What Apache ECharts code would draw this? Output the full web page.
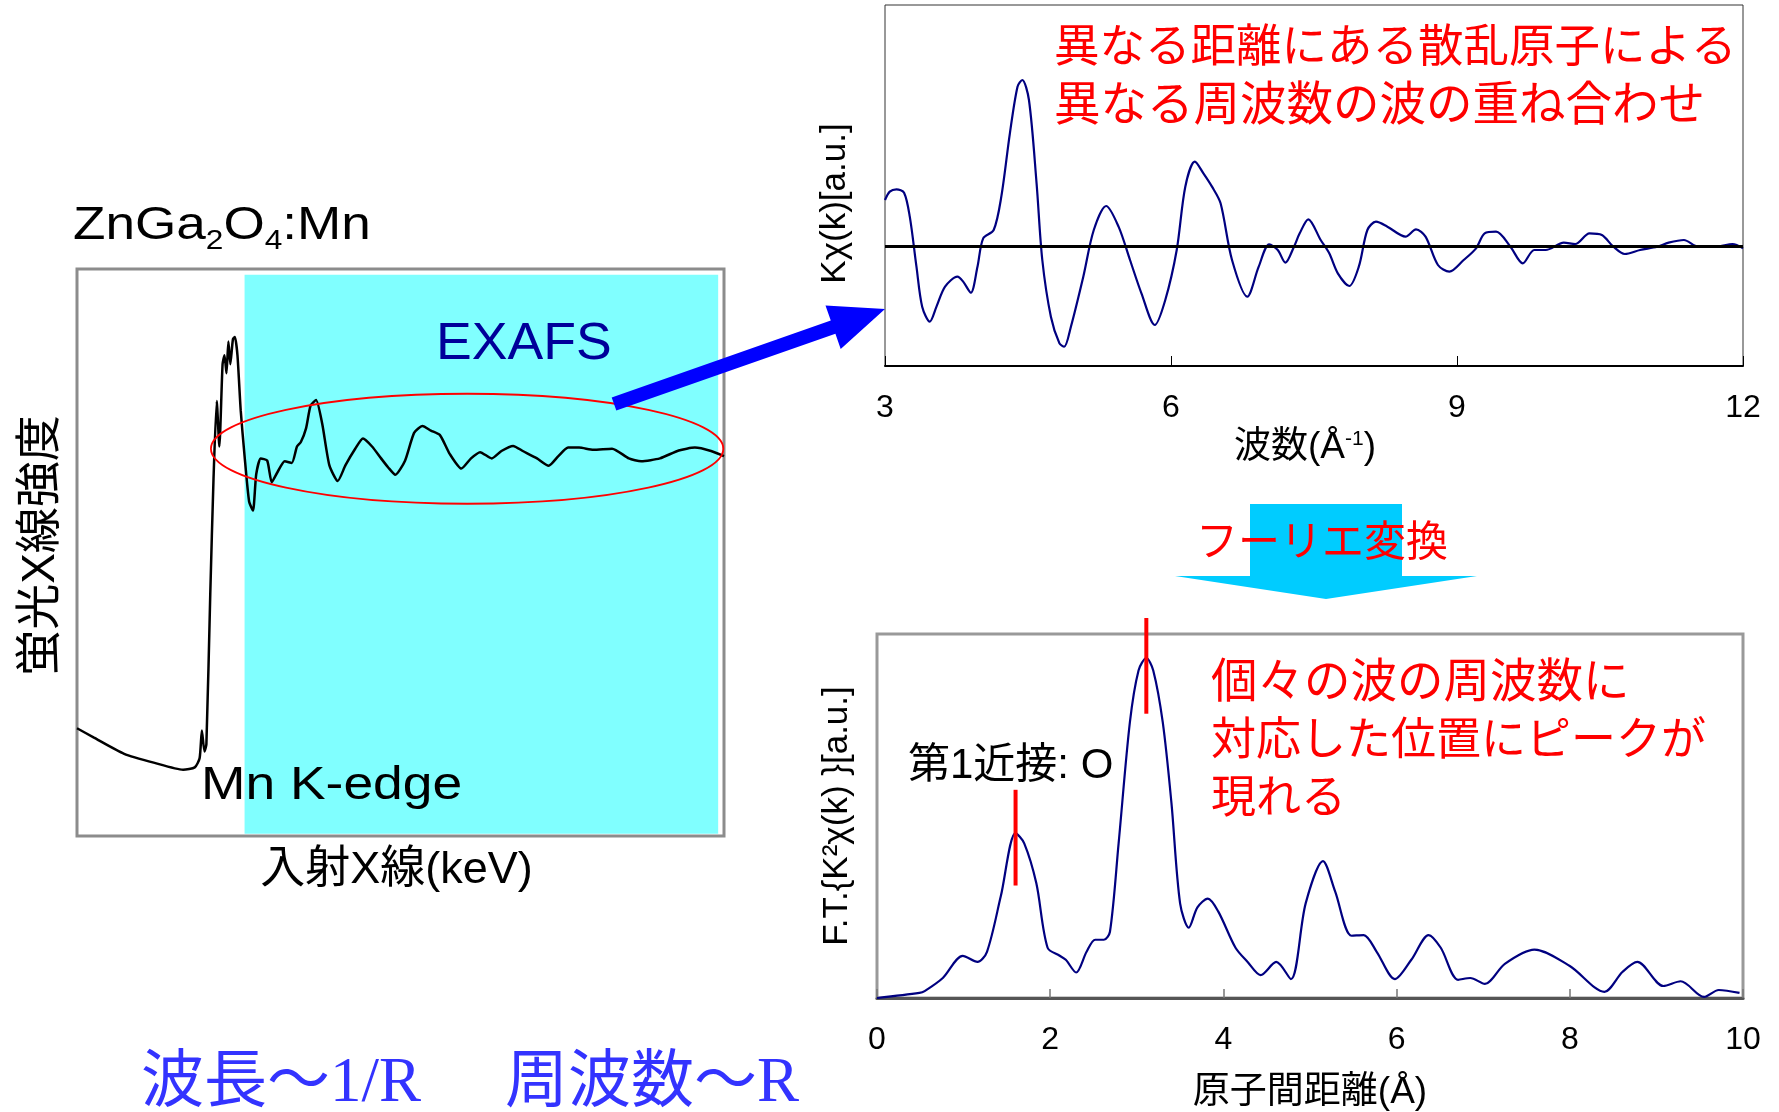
<!DOCTYPE html>
<html><head><meta charset="utf-8">
<script src="https://cdn.jsdelivr.net/npm/echarts@6/dist/echarts.min.js"></script>
<style>html,body{margin:0;padding:0;background:#fff}#c{width:1779px;height:1112px}</style>
</head><body><div id="c"></div><script>
// ---------- data ----------
// left panel: fluorescence spectrum (relative units, box = 0..100)
const xanes = [[0,19.0],[2.55,17.4],[7.29,14.5],[12.0,12.9],[16.4,11.7],[18.2,12.1],[18.95,13.7],[19.3,18.6],[19.7,14.9],[20.0,16.2],[20.6,42.8],[21.1,63.0],[21.6,76.7],[22.0,68.7],[22.5,83.2],[22.8,84.8],[23.1,81.6],[23.4,87.2],[23.7,83.2],[24.1,87.6],[24.4,88.0],[24.8,84.8],[25.3,75.1],[25.9,67.0],[26.6,59.0],[27.2,57.4],[27.7,63.8],[28.4,66.6],[29.4,66.2],[30.1,62.4],[31.0,64.2],[32.1,66.1],[33.2,65.8],[34.0,68.7],[34.6,69.5],[35.4,71.9],[36.1,75.9],[36.95,76.9],[37.9,72.7],[39.0,65.4],[40.3,62.6],[41.5,65.4],[43.0,68.3],[44.2,70.1],[45.6,68.7],[47.0,66.6],[48.1,65.0],[49.2,63.7],[50.7,66.2],[52.1,71.1],[53.4,72.3],[54.7,71.5],[56.1,70.7],[57.6,67.4],[59.4,64.8],[60.9,66.6],[62.3,67.7],[64.1,66.6],[65.6,67.9],[67.4,68.8],[68.9,67.9],[71.1,66.6],[72.9,65.3],[74.4,67.0],[75.9,68.5],[77.6,68.5],[79.8,68.1],[82.7,68.3],[85.3,66.6],[87.2,66.1],[90.1,66.6],[93.0,68.0],[95.5,68.5],[98.0,67.9],[100,67.0]];
const exafsRegion = [25.9, 0.4, 99.1, 99.0];   // x0, y0, x1, y1
const ellipseCenter = [60.3, 68.3];
const ellipseRadii = [39.6, 9.7];

// top right: k·chi(k) vs k
const chi = [[3.00,1.38],[3.05,1.63],[3.12,1.70],[3.20,1.60],[3.26,0.88],[3.33,-0.62],[3.39,-1.82],[3.47,-2.27],[3.54,-1.82],[3.63,-1.22],[3.76,-0.92],[3.82,-1.07],[3.90,-1.40],[3.97,-0.62],[4.03,0.23],[4.14,0.48],[4.22,1.48],[4.31,3.38],[4.39,4.78],[4.44,4.98],[4.51,4.38],[4.59,1.88],[4.65,-0.42],[4.74,-2.12],[4.83,-2.92],[4.88,-3.02],[4.95,-2.42],[5.08,-0.92],[5.19,0.48],[5.32,1.20],[5.45,0.58],[5.57,-0.42],[5.69,-1.42],[5.83,-2.37],[5.94,-1.62],[6.06,-0.12],[6.15,1.78],[6.25,2.53],[6.34,2.18],[6.43,1.78],[6.52,1.28],[6.64,-0.42],[6.80,-1.52],[6.92,-0.62],[7.03,0.05],[7.12,-0.12],[7.20,-0.50],[7.29,-0.02],[7.35,0.38],[7.44,0.80],[7.57,0.18],[7.66,-0.22],[7.75,-0.82],[7.87,-1.20],[7.97,-0.62],[8.06,0.48],[8.15,0.73],[8.27,0.58],[8.46,0.28],[8.57,0.50],[8.67,0.28],[8.80,-0.57],[8.92,-0.77],[9.07,-0.42],[9.20,-0.07],[9.29,0.38],[9.41,0.43],[9.56,-0.02],[9.69,-0.52],[9.81,-0.12],[9.93,-0.12],[10.12,0.10],[10.24,0.06],[10.39,0.38],[10.52,0.33],[10.64,-0.02],[10.76,-0.24],[10.92,-0.12],[11.10,-0.02],[11.22,0.10],[11.38,0.18],[11.53,-0.02],[11.72,-0.02],[11.89,0.06],[12.0,-0.07]];
const kRange = [3, 12, 3];          // min, max, interval
const chiRange = [-3.6, 7.23];

// bottom right: Fourier transform magnitude vs R
const ft = [[0,0],[0.49,1.4],[0.55,1.9],[0.76,5.5],[0.99,11.6],[1.16,9.9],[1.27,12.7],[1.43,28],[1.60,45.3],[1.70,42.5],[1.84,31.5],[1.97,13.8],[2.11,11.6],[2.18,10.5],[2.30,7],[2.42,12.7],[2.52,16],[2.62,16],[2.69,18.2],[2.79,42.5],[2.92,75.7],[3.02,90],[3.11,93.4],[3.19,90],[3.30,75.7],[3.40,53.6],[3.50,26],[3.60,19.3],[3.70,24.9],[3.82,27.3],[3.94,23.8],[4.14,13.8],[4.28,9.9],[4.43,6.3],[4.61,9.9],[4.78,5.2],[4.95,26],[5.15,37.6],[5.29,29.3],[5.48,17.1],[5.62,17.3],[5.77,12.7],[5.98,5.2],[6.17,10.5],[6.37,17.3],[6.51,13.8],[6.71,5],[6.85,5.5],[7.02,3.9],[7.25,9.4],[7.59,13.3],[8.00,8.8],[8.40,1.7],[8.61,7.2],[8.78,9.9],[9.08,3.3],[9.28,4.6],[9.55,0.3],[9.72,2.2],[9.96,1.4]];
const rRange = [0, 10, 2];
const markerR = [1.6, 3.11];
const markerLow = [30.9, 78.1];
const markerHigh = [57.2, 104.4];

// ---------- fonts ----------
const LS = '"Liberation Sans", Arial, sans-serif';
const JP = '"Liberation Sans", "Noto Sans CJK JP", sans-serif';
const SERIF = '"Liberation Serif", "Noto Sans CJK JP", serif';

const chart = echarts.init(document.getElementById('c'));

const markerSeries = markerR.map((r, i) => ({
  type: 'line', xAxisIndex: 2, yAxisIndex: 2, clip: false, symbol: 'none', silent: true, z: 5,
  lineStyle: { color: '#ff0000', width: 4 },
  data: [[r, markerLow[i]], [r, markerHigh[i]]]
}));

chart.setOption({
  animation: false,
  backgroundColor: '#ffffff',
  grid: [
    { left: 77, top: 269, width: 647, height: 567, show: true, borderColor: '#8c8c8c', borderWidth: 3 },
    { left: 885, top: 5, width: 858, height: 361, show: true, borderColor: '#333', borderWidth: 1 },
    { left: 877, top: 634, width: 866, height: 364, show: true, borderColor: '#999', borderWidth: 3 }
  ],
  xAxis: [
    { gridIndex: 0, type: 'value', min: 0, max: 100,
      axisLine: { show: false }, axisTick: { show: false }, axisLabel: { show: false }, splitLine: { show: false },
      name: '入射X線(keV)', nameLocation: 'middle', nameGap: 12,
      nameTextStyle: { fontFamily: JP, fontSize: 45, color: '#000', padding: [0, 8, 0, 0] } },
    { gridIndex: 1, type: 'value', min: kRange[0], max: kRange[1], interval: kRange[2],
      axisLine: { onZero: false, lineStyle: { color: '#000', width: 2 } },
      axisTick: { inside: true, length: 10, lineStyle: { color: '#000', width: 1 } },
      axisLabel: { margin: 26, fontSize: 32, color: '#000', fontFamily: LS },
      splitLine: { show: false },
      name: '波数(Å{sup|-1})', nameLocation: 'middle', nameGap: 63,
      nameTextStyle: { fontFamily: JP, fontSize: 37, color: '#000', padding: [0, 18, 0, 0],
        rich: { sup: { fontFamily: LS, fontSize: 21, lineHeight: 21, verticalAlign: 'top', color: '#000' } } } },
    { gridIndex: 2, type: 'value', min: rRange[0], max: rRange[1], interval: rRange[2],
      axisLine: { onZero: false, lineStyle: { color: '#555', width: 3 } },
      axisTick: { inside: true, length: 9, lineStyle: { color: '#777', width: 1.5 } },
      axisLabel: { margin: 26, fontSize: 32, color: '#000', fontFamily: LS },
      splitLine: { show: false },
      name: '原子間距離(Å)', nameLocation: 'middle', nameGap: 76,
      nameTextStyle: { fontFamily: JP, fontSize: 37, color: '#000' } }
  ],
  yAxis: [
    { gridIndex: 0, type: 'value', min: 0, max: 100,
      axisLine: { show: false }, axisTick: { show: false }, axisLabel: { show: false }, splitLine: { show: false },
      name: '蛍光X線強度', nameLocation: 'middle', nameGap: 13,
      nameTextStyle: { fontFamily: JP, fontSize: 46, color: '#000', padding: [0, 0, 0, 14] } },
    { gridIndex: 1, type: 'value', min: chiRange[0], max: chiRange[1],
      axisLine: { show: false }, axisTick: { show: false }, axisLabel: { show: false }, splitLine: { show: false },
      name: 'Kχ(k)[a.u.]', nameLocation: 'middle', nameGap: 32,
      nameTextStyle: { fontFamily: LS, fontSize: 35, color: '#000', padding: [0, 36, 0, 0] } },
    { gridIndex: 2, type: 'value', min: 0, max: 100,
      axisLine: { show: false }, axisTick: { show: false }, axisLabel: { show: false }, splitLine: { show: false },
      name: 'F.T.{K²χ(k) }[a.u.]', nameLocation: 'middle', nameGap: 22,
      nameTextStyle: { fontFamily: LS, fontSize: 35, color: '#000' } }
  ],
  series: [
    { type: 'line', xAxisIndex: 0, yAxisIndex: 0, data: xanes, symbol: 'none', smooth: 0.2, clip: false,
      lineStyle: { color: '#000', width: 2.5 }, silent: true,
      markArea: { silent: true, itemStyle: { color: '#80ffff' },
        data: [[{ coord: [exafsRegion[0], exafsRegion[1]] }, { coord: [exafsRegion[2], exafsRegion[3]] }]] } },
    { type: 'line', xAxisIndex: 1, yAxisIndex: 1, data: chi, symbol: 'none', smooth: 0.3,
      lineStyle: { color: '#000080', width: 2.2 }, silent: true,
      markLine: { silent: true, symbol: 'none', label: { show: false },
        lineStyle: { color: '#000', width: 3, type: 'solid' }, data: [{ yAxis: 0 }] } },
    { type: 'line', xAxisIndex: 2, yAxisIndex: 2, data: ft, symbol: 'none', smooth: 0.3,
      lineStyle: { color: '#000080', width: 2.2 }, silent: true }
  ].concat(markerSeries)
});

// ---------- annotations ----------
const c0 = chart.convertToPixel({ gridIndex: 0 }, ellipseCenter);
const c1 = chart.convertToPixel({ gridIndex: 0 }, [ellipseCenter[0] + ellipseRadii[0], ellipseCenter[1] + ellipseRadii[1]]);

function txt(x, y, text, size, color, family, extra) {
  return Object.assign({
    type: 'text', x: x, y: y, z: 30, silent: true,
    style: { text: text, fontSize: size, fontFamily: family, fill: color,
      align: 'left', verticalAlign: 'middle', textAlign: 'left', textVerticalAlign: 'middle' }
  }, extra || {});
}

// blue arrow from ellipse to top-right plot
const aS = [614, 404], aT = [885, 309];
const dx = aT[0] - aS[0], dy = aT[1] - aS[1], L = Math.hypot(dx, dy);
const ux = dx / L, uy = dy / L, nx = -uy, ny = ux;
const hw = 7, headL = 55, headW = 23;
const bx = aT[0] - ux * headL, by = aT[1] - uy * headL;
const arrowPts = [
  [aS[0] + nx * hw, aS[1] + ny * hw], [bx + nx * hw, by + ny * hw], [bx + nx * headW, by + ny * headW],
  aT, [bx - nx * headW, by - ny * headW], [bx - nx * hw, by - ny * hw], [aS[0] - nx * hw, aS[1] - ny * hw]
];

chart.setOption({
  graphic: [
    { type: 'ellipse', z: 20, silent: true,
      shape: { cx: c0[0], cy: c0[1], rx: c1[0] - c0[0], ry: c0[1] - c1[1] },
      style: { fill: 'none', stroke: '#ff0000', lineWidth: 1.8 } },
    { type: 'polygon', z: 25, silent: true, shape: { points: arrowPts }, style: { fill: '#0000ff' } },
    { type: 'polygon', z: 25, silent: true,
      shape: { points: [[1250, 504], [1402, 504], [1402, 576], [1477, 576], [1326, 599], [1175, 576], [1250, 576]] },
      style: { fill: '#00ccff' } },
    // title
    { type: 'text', x: 73, y: 226.5, z: 30, scaleX: 1.13, silent: true,
      style: { text: '{m|ZnGa}{s|2}{m|O}{s|4}{m|:Mn}', align: 'left', verticalAlign: 'middle',
        rich: { m: { fontSize: 47, fontFamily: LS, lineHeight: 58, fill: '#000', color: '#000' },
                s: { fontSize: 28, fontFamily: LS, lineHeight: 28, verticalAlign: 'bottom', fill: '#000', color: '#000' } } } },
    txt(436, 345, 'EXAFS', 52, '#000099', LS, { scaleX: 1.03 }),
    txt(201, 786, 'Mn K-edge', 47, '#000', LS, { scaleX: 1.136 }),
    txt(1054, 49, '異なる距離にある散乱原子による', 45.5, '#ff0000', JP),
    txt(1054, 107, '異なる周波数の波の重ね合わせ', 46.5, '#ff0000', JP),
    { type: 'text', x: 1322, y: 544, z: 30, silent: true,
      style: { text: 'フーリエ変換', fontSize: 42, fontFamily: JP, fill: '#ff0000', align: 'center', verticalAlign: 'middle' } },
    txt(1211, 684, '個々の波の周波数に', 46.5, '#ff0000', JP),
    txt(1211, 743, '対応した位置にピークが', 45, '#ff0000', JP),
    txt(1211, 801, '現れる', 45, '#ff0000', JP),
    txt(908, 766, '第1近接: O', 42, '#000', JP),
    txt(141, 1084, '波長～1/R', 63, '#3333ff', SERIF),
    txt(505, 1084, '周波数～R', 63, '#3333ff', SERIF)
  ]
});
</script></body></html>
